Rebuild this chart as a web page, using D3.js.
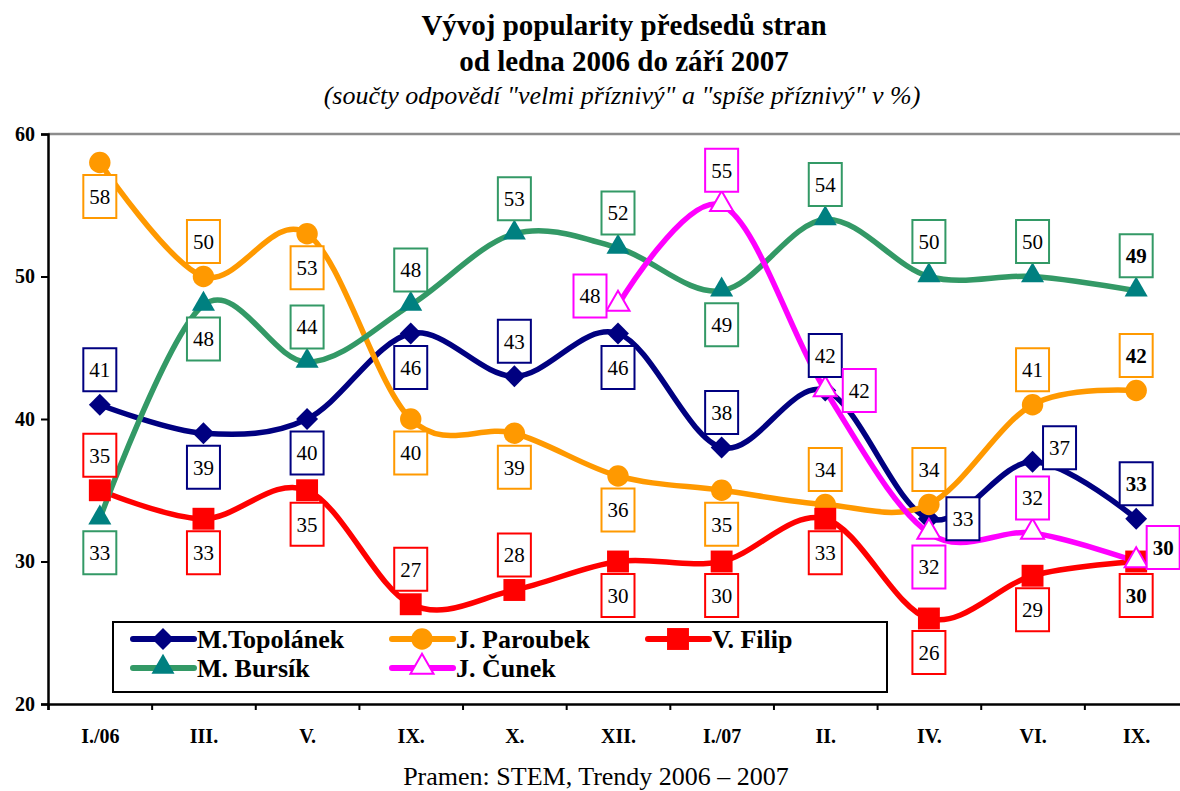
<!DOCTYPE html>
<html>
<head>
<meta charset="utf-8">
<script src="https://cdn.jsdelivr.net/npm/d3@7"></script>
<style>
  body { margin: 0; background: #fff; }
  svg { display: block; font-family: "Liberation Serif", "Times New Roman", serif; }
  .axis text { font-family: "Liberation Serif", "Times New Roman", serif; font-weight: bold; font-size: 20px; fill: #000; }
</style>
</head>
<body>
<script>
//popularity of party leaders, Jan 2006 - Sep 2007

//pseudo-global data
var months = ["I./06", "III.", "V.", "IX.", "X.", "XII.", "I./07", "II.", "IV.", "VI.", "IX."];
var topolanek = [41, 39, 40, 46, 43, 46, 38, 42, 33, 37, 33];
var paroubek  = [58, 50, 53, 40, 39, 36, 35, 34, 34, 41, 42];
var filip     = [35, 33, 35, 27, 28, 30, 30, 33, 26, 29, 30];
var bursik    = [33, 48, 44, 48, 53, 52, 49, 54, 50, 50, 49];
var cunek     = [null, null, null, null, null, 48, 55, 42, 32, 32, 30];
var yTicks = [20, 30, 40, 50, 60];

//label placement codes: a above, b below, r right, l left, u upper right
var series = [
    {name: "M.Topolánek", values: topolanek, line: "#000080", fill: "#000080", shape: "diamond", place: "abbbabaarua"},
    {name: "J. Paroubek", values: paroubek, line: "#FF9900", fill: "#FF9900", shape: "circle", place: "babbbbbaaaa"},
    {name: "V. Filip", values: filip, line: "#FF0000", fill: "#FF0000", shape: "square", place: "abbaabbbbbb"},
    {name: "M. Bursík", values: bursik, line: "#339966", fill: "#008080", shape: "triangle", place: "bbaaaabaaaa"},
    {name: "J. Čunek", values: cunek, line: "#FF00FF", fill: "#FFFFFF", shape: "triangle", place: ".....larbau"}
];

var width = 1180, height = 791;
var x0 = 48, x1 = 1188, yTop = 134, yBottom = 704;

var svg = d3.select("body").append("svg")
    .attr("width", width)
    .attr("height", height);

//months repeat (IX.), so the scale runs on indices
var x = d3.scalePoint()
    .domain(d3.range(months.length))
    .range([x0, x1])
    .padding(0.5);

var y = d3.scaleLinear()
    .domain([20, 60])
    .range([yBottom, yTop]);

//titles
svg.append("text")
    .attr("x", 624).attr("y", 35)
    .attr("text-anchor", "middle")
    .style("font-weight", "bold").style("font-size", "29px")
    .text("Vývoj popularity předsedů stran");
svg.append("text")
    .attr("x", 624).attr("y", 71)
    .attr("text-anchor", "middle")
    .style("font-weight", "bold").style("font-size", "29px")
    .text("od ledna 2006 do září 2007");
svg.append("text")
    .attr("x", 622).attr("y", 104)
    .attr("text-anchor", "middle")
    .style("font-style", "italic").style("font-size", "26px")
    .text("(součty odpovědí \"velmi příznivý\" a \"spíše příznivý\" v %)");

//top border of plot area
svg.append("line")
    .attr("x1", x0).attr("x2", width)
    .attr("y1", yTop).attr("y2", yTop)
    .attr("stroke", "#8c8c8c").attr("stroke-width", 2.5);

//y axis
var yAxis = svg.append("g")
    .attr("class", "axis")
    .attr("transform", "translate(" + x0 + ",0)")
    .call(d3.axisLeft(y).tickValues(yTicks).tickSize(7).tickPadding(6));
yAxis.select(".domain").attr("stroke-width", 2.5);
yAxis.selectAll(".tick line").attr("stroke-width", 2);

//x axis: labels at centres, ticks between months
var xTickScale = d3.scaleLinear().domain([0, months.length]).range([x0, x1]);
var xTicks = svg.append("g")
    .attr("transform", "translate(0," + yBottom + ")")
    .call(d3.axisBottom(xTickScale).ticks(months.length).tickSize(6).tickFormat(""));
xTicks.select(".domain").attr("stroke-width", 2.5);
xTicks.selectAll(".tick line").attr("stroke-width", 2);

var xLabels = svg.append("g")
    .attr("class", "axis")
    .attr("transform", "translate(0," + yBottom + ")")
    .call(d3.axisBottom(x).tickSize(0).tickPadding(25)
        .tickFormat(function(i){ return months[i]; }));
xLabels.select(".domain").remove();

//footer
svg.append("text")
    .attr("x", 596).attr("y", 785)
    .attr("text-anchor", "middle")
    .style("font-size", "26px")
    .text("Pramen: STEM, Trendy 2006 – 2007");

function symbolFor(shape){
    if (shape == "diamond") return d3.symbol().type(d3.symbolSquare).size(240)();
    if (shape == "circle") return d3.symbol().type(d3.symbolCircle).size(360)();
    if (shape == "square") return d3.symbol().type(d3.symbolSquare).size(480)();
    return d3.symbol().type(d3.symbolTriangle).size(230)();
};

function markerTransform(shape, cx, cy){
    if (shape == "diamond") return "translate(" + cx + "," + cy + ") rotate(45)";
    if (shape == "triangle") return "translate(" + cx + "," + (cy - 1) + ")";
    return "translate(" + cx + "," + cy + ")";
};

var line = d3.line()
    .defined(function(d){ return d != null; })
    .x(function(d, i){ return x(i); })
    .y(function(d){ return y(d); })
    .curve(d3.curveCatmullRom.alpha(0));

//lines
series.forEach(function(s){
    svg.append("path")
        .datum(s.values)
        .attr("fill", "none")
        .attr("stroke", s.line)
        .attr("stroke-width", 5.5)
        .attr("stroke-linejoin", "round")
        .attr("d", line);
});

//markers
series.forEach(function(s){
    svg.selectAll(null)
        .data(s.values.map(function(v, i){ return {v: v, i: i}; })
            .filter(function(d){ return d.v != null; }))
        .enter()
        .append("path")
        .attr("d", symbolFor(s.shape))
        .attr("transform", function(d){ return markerTransform(s.shape, x(d.i), y(d.v)); })
        .attr("fill", s.fill)
        .attr("stroke", s.fill == "#FFFFFF" ? s.line : "none")
        .attr("stroke-width", 2);
});

//boxed value labels
var offsets = {
    a: [0, -35], b: [0, 34], r: [34, 0], l: [-28, -9], u: [27, -14]
};
var boxW = 33, boxH = 43;

series.forEach(function(s){
    s.values.forEach(function(v, i){
        if (v == null) return;
        var off = offsets[s.place[i]];
        var cx = x(i) + off[0], cy = y(v) + off[1];
        var g = svg.append("g").attr("transform", "translate(" + cx + "," + cy + ")");
        g.append("rect")
            .attr("x", -boxW / 2).attr("y", -boxH / 2)
            .attr("width", boxW).attr("height", boxH)
            .attr("fill", "#fff")
            .attr("stroke", s.line)
            .attr("stroke-width", 2);
        g.append("text")
            .attr("text-anchor", "middle")
            .attr("dy", "0.35em")
            .style("font-size", "21px")
            .style("font-weight", i == months.length - 1 ? "bold" : "normal")
            .text(v);
    });
});

//legend
var legend = svg.append("g").attr("transform", "translate(113,622)");
legend.append("rect")
    .attr("width", 774).attr("height", 70)
    .attr("fill", "#fff")
    .attr("stroke", "#000")
    .attr("stroke-width", 2);

var legendPos = [[20, 17], [279, 17], [535, 17], [20, 46], [279, 46]];
series.forEach(function(s, i){
    var g = legend.append("g")
        .attr("transform", "translate(" + legendPos[i][0] + "," + legendPos[i][1] + ")");
    g.append("line")
        .attr("x1", 0).attr("x2", 61)
        .attr("stroke", s.line)
        .attr("stroke-width", 6)
        .attr("stroke-linecap", "round");
    g.append("path")
        .attr("d", symbolFor(s.shape))
        .attr("transform", markerTransform(s.shape, 30, 0))
        .attr("fill", s.fill)
        .attr("stroke", s.fill == "#FFFFFF" ? s.line : "none")
        .attr("stroke-width", 2);
    g.append("text")
        .attr("x", 64).attr("dy", "0.35em")
        .style("font-weight", "bold")
        .style("font-size", "26px")
        .text(s.name);
});
</script>
</body>
</html>
